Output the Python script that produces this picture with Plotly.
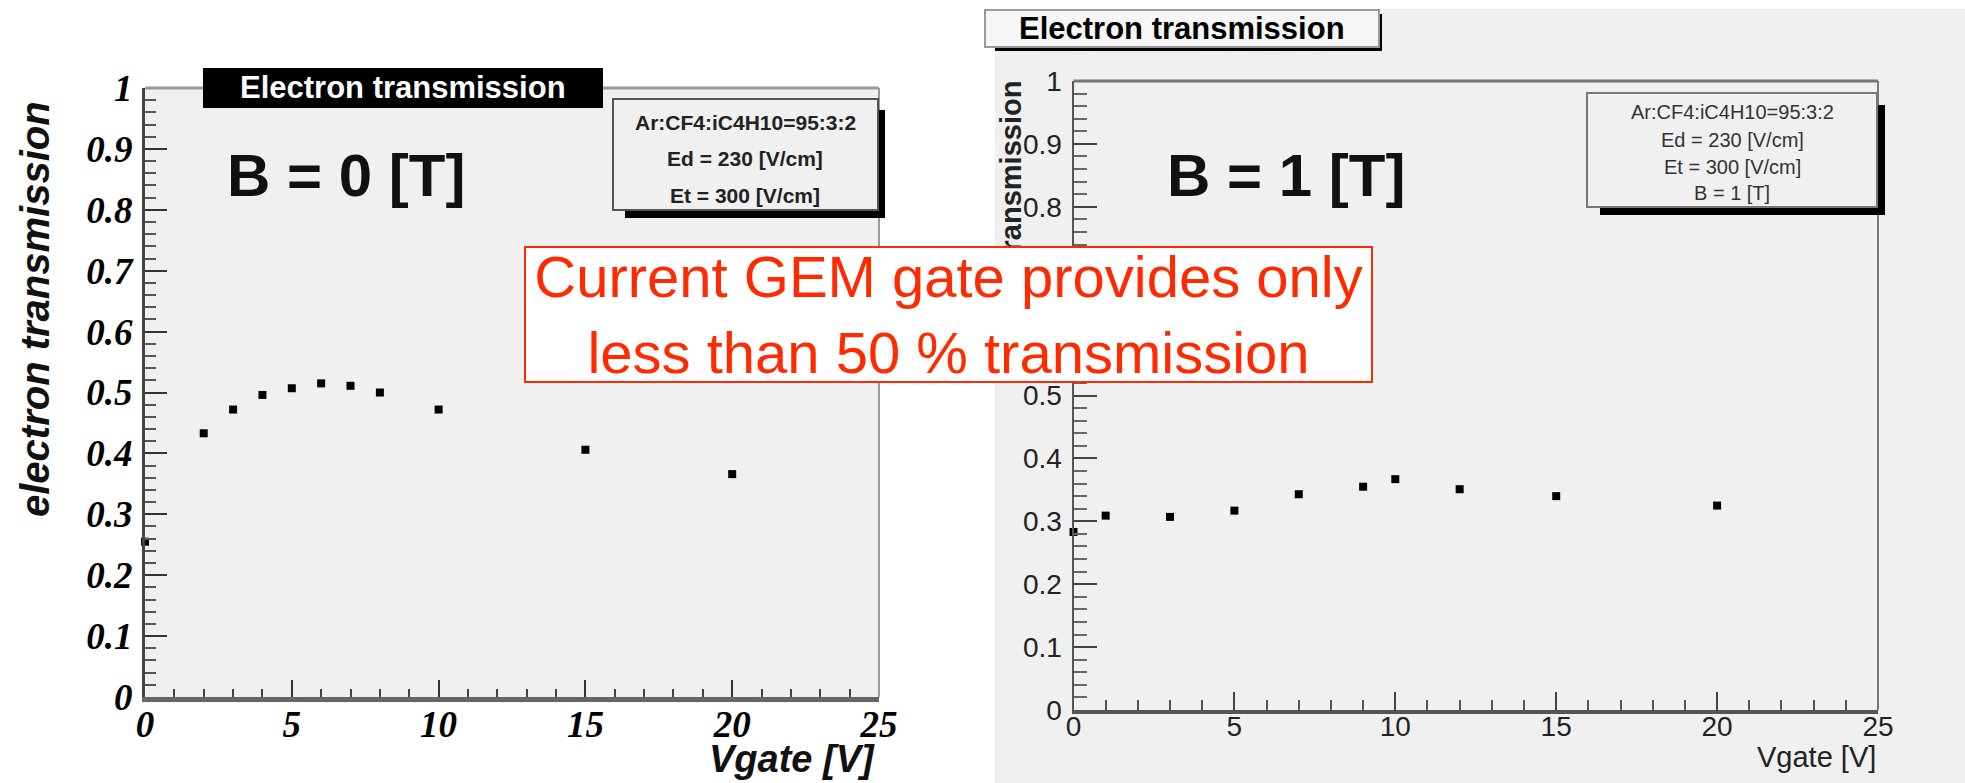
import plotly.graph_objects as go

# Electron transmission of the GEM gate vs. gate voltage, B = 0 T and B = 1 T
vgate_b0 = [0, 2, 3, 4, 5, 6, 7, 8, 10, 15, 20]
trans_b0 = [0.255, 0.433, 0.472, 0.496, 0.507, 0.515, 0.511, 0.500, 0.472, 0.406, 0.366]

vgate_b1 = [0, 1, 3, 5, 7, 9, 10, 12, 15, 20]
trans_b1 = [0.283, 0.309, 0.307, 0.317, 0.343, 0.355, 0.367, 0.351, 0.340, 0.325]

x_ticks = [0, 5, 10, 15, 20, 25]
y_ticks = [0, 0.1, 0.2, 0.3, 0.4, 0.5, 0.6, 0.7, 0.8, 0.9, 1]

title_text = "Electron transmission"
y_title = "electron transmission"
x_title = "Vgate [V]"
gas_lines = ["Ar:CF4:iC4H10=95:3:2", "Ed = 230 [V/cm]", "Et = 300 [V/cm]"]
gas_lines_b1 = gas_lines + ["B = 1 [T]"]
note_text = "Current GEM gate provides only<br>less than 50 % transmission"

W, H = 1965, 783


def px(x):
    return x / W


def py(y):
    return 1 - y / H


def rect(x0, y0, x1, y1, fill, line_color=None, line_width=0, layer="above"):
    return dict(type="rect", xref="paper", yref="paper",
                x0=px(x0), x1=px(x1), y0=py(y1), y1=py(y0),
                fillcolor=fill, layer=layer,
                line=dict(color=line_color or fill, width=line_width))


def hline(x0, x1, y, color, width, layer="above"):
    return dict(type="line", xref="paper", yref="paper",
                x0=px(x0), x1=px(x1), y0=py(y), y1=py(y),
                line=dict(color=color, width=width), layer=layer)


def vline(x, y0, y1, color, width, layer="above"):
    return dict(type="line", xref="paper", yref="paper",
                x0=px(x), x1=px(x), y0=py(y0), y1=py(y1),
                line=dict(color=color, width=width), layer=layer)


def label(x, y, text, size, color="#111", family="Arial", weight="normal",
          style="normal", xanchor="center", yanchor="middle", angle=0, **kw):
    return dict(xref="paper", yref="paper", x=px(x), y=py(y), text=text,
                showarrow=False, xanchor=xanchor, yanchor=yanchor,
                textangle=angle,
                font=dict(size=size, color=color, family=family,
                          weight=weight, style=style), **kw)


fig = go.Figure()

fig.add_trace(go.Scatter(
    x=vgate_b0, y=trans_b0, mode="markers", xaxis="x", yaxis="y",
    marker=dict(symbol="square", size=8, color="black"),
    cliponaxis=False, showlegend=False))

fig.add_trace(go.Scatter(
    x=vgate_b1, y=trans_b1, mode="markers", xaxis="x2", yaxis="y2",
    marker=dict(symbol="square", size=8, color="black"),
    cliponaxis=False, showlegend=False))

# Panel geometry (pixels)
L_X0, L_X1, L_Y0, L_Y1 = 145, 879, 88, 697
R_X0, R_X1, R_Y0, R_Y1 = 1073.5, 1878, 81, 710

serif_tick = dict(family="Liberation Serif", size=37, color="black",
                  style="italic", weight="bold")
sans_tick = dict(family="Arial", size=28, color="#222")

fig.update_layout(
    width=W, height=H, autosize=False,
    margin=dict(l=0, r=0, t=0, b=0, autoexpand=False),
    paper_bgcolor="white", plot_bgcolor="#f0f0f0",
    xaxis=dict(domain=[px(L_X0), px(L_X1)], range=[0, 25], anchor="y",
               automargin=False,
               tickvals=x_ticks, ticktext=[str(v) for v in x_ticks],
               ticks="inside", ticklen=17, tickwidth=2, tickcolor="#333",
               minor=dict(ticks="inside", dtick=1, ticklen=8, tickwidth=2,
                          tickcolor="#444"),
               showline=True, linecolor="#666", linewidth=5,
               showgrid=False, zeroline=False, tickfont=serif_tick,
               ticklabelstandoff=-9),
    yaxis=dict(domain=[py(L_Y1), py(L_Y0)], range=[0, 1], anchor="x",
               automargin=False,
               tickvals=y_ticks, ticktext=[f"{v:g}" for v in y_ticks],
               ticks="inside", ticklen=22, tickwidth=2, tickcolor="#333",
               minor=dict(ticks="inside", dtick=0.02, ticklen=11,
                          tickwidth=2, tickcolor="#555"),
               showline=True, linecolor="#444", linewidth=3,
               showgrid=False, zeroline=False, tickfont=serif_tick,
               ticklabelstandoff=2),
    xaxis2=dict(domain=[px(R_X0), px(R_X1)], range=[0, 25], anchor="y2",
                automargin=False,
                tickvals=x_ticks, ticktext=[str(v) for v in x_ticks],
                ticks="inside", ticklen=18, tickwidth=2, tickcolor="#444",
                minor=dict(ticks="inside", dtick=1, ticklen=10, tickwidth=2,
                           tickcolor="#555"),
                showline=True, linecolor="#555", linewidth=4,
                showgrid=False, zeroline=False, tickfont=sans_tick,
                ticklabelstandoff=-12),
    yaxis2=dict(domain=[py(R_Y1), py(R_Y0)], range=[0, 1], anchor="x2",
                automargin=False,
                tickvals=y_ticks, ticktext=[f"{v:g}" for v in y_ticks],
                ticks="inside", ticklen=23, tickwidth=2, tickcolor="#444",
                minor=dict(ticks="inside", dtick=0.02, ticklen=13,
                           tickwidth=2, tickcolor="#666"),
                showline=True, linecolor="#555", linewidth=2,
                showgrid=False, zeroline=False, tickfont=sans_tick,
                ticklabelstandoff=4),
)

shapes = [
    # grey canvas of the right-hand panel
    rect(995, 9, W, H, "#f0f0f0", layer="below"),
    # frame lines on top / right of each plot area
    hline(L_X0, L_X1, L_Y0, "#999", 3),
    vline(L_X1, L_Y0, L_Y1, "#999", 2),
    hline(R_X0, R_X1, R_Y0, "#777", 3),
    vline(R_X1, R_Y0, R_Y1, "#777", 2),
    # left title box
    rect(203, 68, 603, 108, "black"),
    # left info box with shadow
    rect(625, 110, 885, 218, "black"),
    rect(613, 99, 878, 210, "#f0f0f0", "#555", 2),
    # right title box with shadow
    rect(995, 14, 1382, 51, "black"),
    rect(985, 10, 1379, 47, "#f6f6f6", "#999", 2),
    # right info box with shadow
    rect(1600, 105, 1885, 215, "black"),
    rect(1587, 93, 1877, 207, "#f0f0f0", "#777", 2),
]
fig.update_layout(shapes=shapes)

annotations = [
    label(403, 88, title_text, 31, color="white", weight="bold"),
    label(1182, 29, title_text, 31, color="black", weight="bold"),
    label(346, 176, "B = 0 [T]", 60, color="#111", weight="bold"),
    label(1286, 176, "B = 1 [T]", 60, color="#111", weight="bold"),
    label(35, 309, y_title, 40, color="#111", weight="bold", style="italic", angle=-90),
    label(877, 759, x_title, 38, color="#111", weight="bold", style="italic",
          xanchor="right"),
    label(1011, 232, y_title, 29, color="#222", weight="bold", angle=-90),
    label(1878, 757, x_title, 29, color="#222", xanchor="right"),
]
for text, yy in zip(gas_lines, [122, 158, 195]):
    annotations.append(label(745, yy, text, 21, color="#222", weight="bold"))
for text, yy in zip(gas_lines_b1, [112, 140, 167, 193]):
    annotations.append(label(1732, yy, text, 20, color="#333"))
# highlighted note, drawn last so its white box sits on top of everything
annotations.append(label(948.5, 314.5, note_text, 58, color="#ff2a00",
                         bgcolor="white", bordercolor="#ff2a00",
                         borderwidth=2, borderpad=0, width=845, height=133))
fig.update_layout(annotations=annotations)

fig.write_html("out.html")
